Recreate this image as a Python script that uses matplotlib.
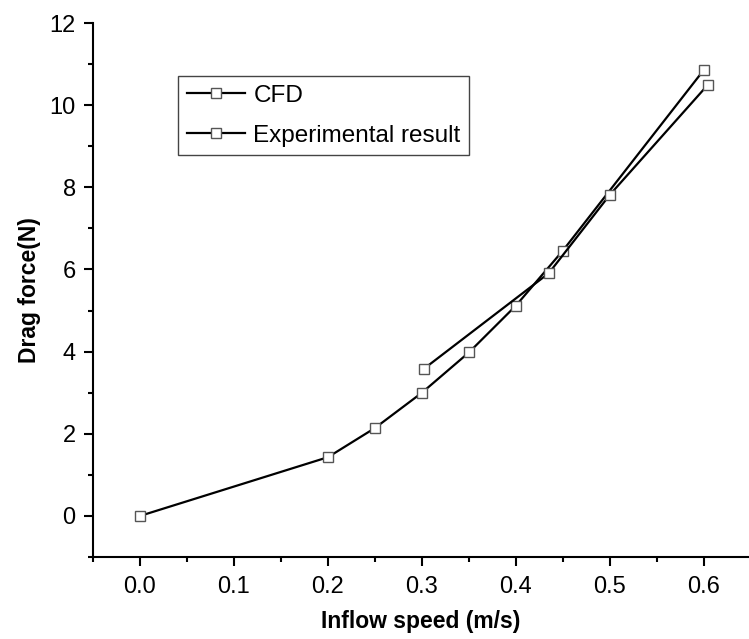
import matplotlib
matplotlib.use("Agg")
import matplotlib.pyplot as plt
from matplotlib.ticker import MultipleLocator

plt.rcParams['font.family'] = ['Liberation Sans', 'DejaVu Sans']

cfd_speed = [0.0, 0.2, 0.25, 0.3, 0.35, 0.4, 0.45, 0.6]
cfd_force = [0.0, 1.43, 2.14, 3.0, 3.98, 5.12, 6.46, 10.86]
exp_speed = [0.302, 0.435, 0.5, 0.604]
exp_force = [3.58, 5.91, 7.82, 10.49]

fig = plt.figure(figsize=(7.49, 6.39), dpi=100)
ax = fig.add_axes([93/749, 82/639, 656/749, 534/639])

mk = dict(marker='s', markersize=7.5, markerfacecolor='white',
          markeredgecolor='#555555', markeredgewidth=1.0,
          color='black', linewidth=1.6)
ax.plot(cfd_speed, cfd_force, label='CFD', **mk)
ax.plot(exp_speed, exp_force, label='Experimental result', **mk)

ax.set_xlim(-0.05, 0.648)
ax.set_ylim(-1, 12)
ax.xaxis.set_minor_locator(MultipleLocator(0.05))
ax.yaxis.set_minor_locator(MultipleLocator(1))
ax.set_xticks([0.0, 0.1, 0.2, 0.3, 0.4, 0.5, 0.6])
ax.set_xticklabels(['0.0', '0.1', '0.2', '0.3', '0.4', '0.5', '0.6'])
ax.set_yticks([0, 2, 4, 6, 8, 10, 12])

for s in ['top', 'right']:
    ax.spines[s].set_visible(False)
for s in ['left', 'bottom']:
    ax.spines[s].set_linewidth(1.5)

ax.tick_params(which='major', direction='out', length=6.5, width=1.5, labelsize=17)
ax.tick_params(which='minor', direction='out', length=3.5, width=1.5)
ax.tick_params(axis='x', which='major', pad=7)
ax.tick_params(axis='y', which='major', pad=6)

ax.set_xlabel('Inflow speed (m/s)', fontsize=16.5, fontweight='bold', labelpad=9)
ax.set_ylabel('Drag force(N)', fontsize=16.5, fontweight='bold', labelpad=6)

leg = ax.legend(loc='upper left', bbox_to_anchor=((178-93)/656, (557-76)/534),
                borderaxespad=0, fontsize=17.5, fancybox=False,
                edgecolor='#444444', framealpha=1, handlelength=2.4,
                handletextpad=0.35, labelspacing=0.75, borderpad=0.35)
leg.get_frame().set_linewidth(1.0)

fig.savefig('out.png', dpi=100)
